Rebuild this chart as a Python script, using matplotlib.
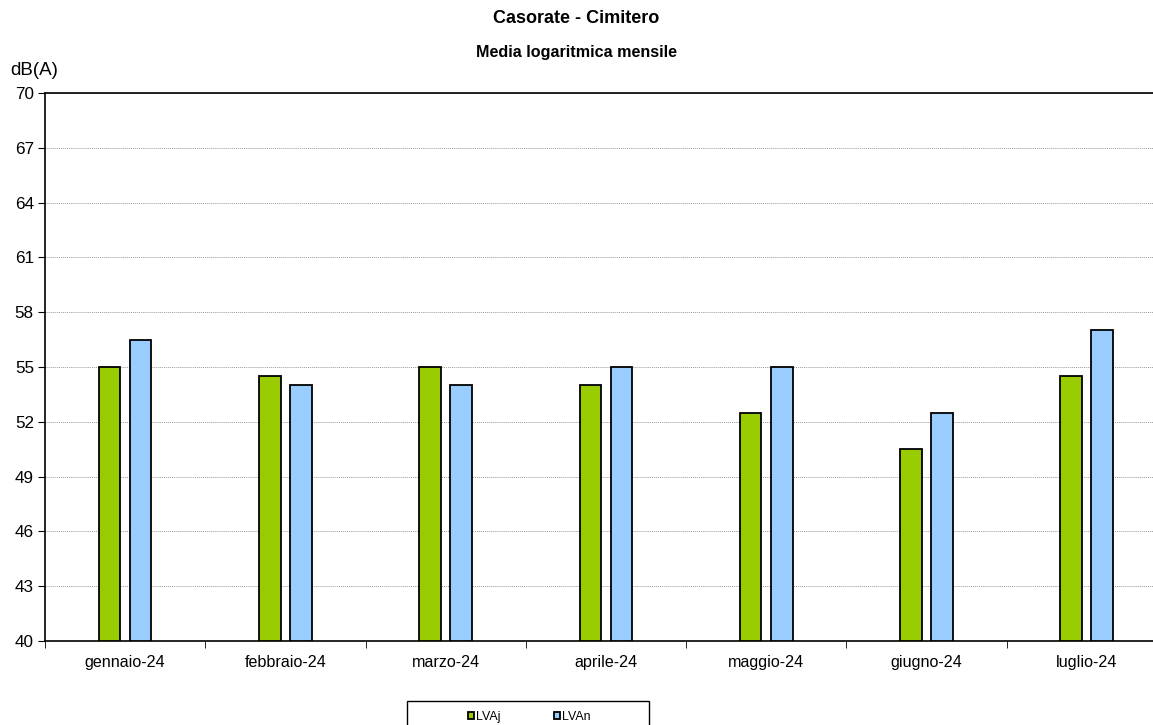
import matplotlib
matplotlib.use("Agg")
import matplotlib.pyplot as plt
from matplotlib.patches import Rectangle
import numpy as np

plt.rcParams["font.family"] = ["Liberation Sans", "DejaVu Sans"]

months = ["gennaio-24", "febbraio-24", "marzo-24", "aprile-24",
          "maggio-24", "giugno-24", "luglio-24"]
lva_day = [55.0, 54.5, 55.0, 54.0, 52.5, 50.5, 54.5]
lva_night = [56.5, 54.0, 54.0, 55.0, 55.0, 52.5, 57.0]
y_ticks = list(range(40, 71, 3))

fig = plt.figure(figsize=(11.53, 7.25), dpi=100)
ax = fig.add_axes([0.039, 0.1159, 0.973, 0.7559])

x = np.arange(len(months))
w = 0.135
off = 0.097
ax.bar(x - off, np.array(lva_day) - 40, w, bottom=40, color="#99CC00",
       edgecolor="black", linewidth=1.3, label="LVAj", zorder=3)
ax.bar(x + off, np.array(lva_night) - 40, w, bottom=40, color="#99CCFF",
       edgecolor="black", linewidth=1.3, label="LVAn", zorder=3)

ax.set_xlim(-0.5, len(months) - 0.5)
ax.set_ylim(40, 70)
ax.set_yticks(y_ticks)
ax.tick_params(axis="y", labelsize=12.3, length=5, direction="out", pad=3)
ax.set_xticks(x)
ax.set_xticklabels(months, fontsize=11.6)
ax.set_xticks(np.arange(len(months)) - 0.5, minor=True)
ax.tick_params(axis="x", which="major", length=0, pad=10)
ax.tick_params(axis="x", which="minor", length=5, color="black")
ax.grid(axis="y", color="#999999", linestyle=(0, (1, 1)), linewidth=0.7, zorder=0)

for s in ["left", "bottom", "top"]:
    ax.spines[s].set_linewidth(1.2)
ax.spines["right"].set_visible(False)

fig.text(0.5, 0.974, "Casorate - Cimitero", ha="center", va="center",
         fontsize=13, fontweight="bold")
fig.text(0.5, 0.927, "Media logaritmica mensile", ha="center", va="center",
         fontsize=11.6, fontweight="bold")
fig.text(0.009, 0.903, "dB(A)", ha="left", va="center", fontsize=13.5)

# legend frame runs off the bottom of the figure, as in the original
fig.patches.append(Rectangle((407 / 1153, -0.02), 242 / 1153, 0.053,
                             transform=fig.transFigure, fill=False,
                             edgecolor="black", linewidth=1.0))
fig.legend(loc="center", bbox_to_anchor=(0.459, 0.011), ncol=2, fontsize=8.9,
           frameon=False, handlelength=0.5, handleheight=0.5,
           handletextpad=0.15, columnspacing=4.3, borderpad=0)

fig.savefig("out.png", dpi=100)
